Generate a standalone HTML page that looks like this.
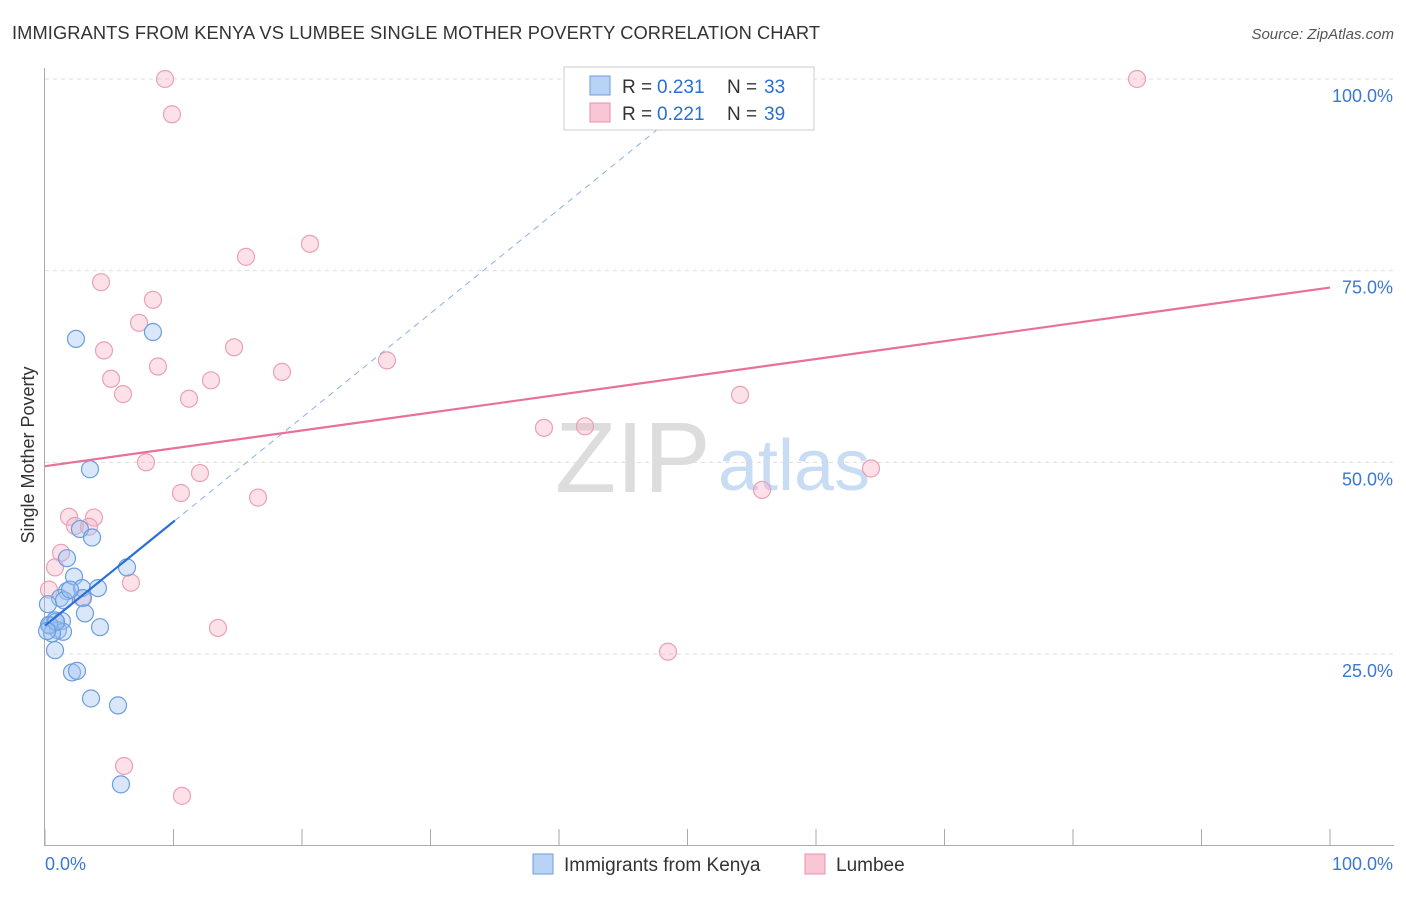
<!DOCTYPE html>
<html><head><meta charset="utf-8"><style>
body{margin:0;background:#fff;font-family:"Liberation Sans",sans-serif;}
svg text{font-family:"Liberation Sans",sans-serif;}
</style></head><body>
<svg id="chart" width="1406" height="892">
<text x="12" y="39" font-size="18.3" fill="#333" textLength="808">IMMIGRANTS FROM KENYA VS LUMBEE SINGLE MOTHER POVERTY CORRELATION CHART</text>
<text x="1394" y="39" font-size="15" fill="#555" text-anchor="end" font-style="italic">Source: ZipAtlas.com</text>
<g id="grid"></g>
<text x="555" y="492" font-size="100" fill="#ddd" font-family="Liberation Serif">ZIP</text>
<text x="718" y="490" font-size="72" fill="#c8dcf4">atlas</text>
<g id="marks"></g>
<text x="34" y="455" font-size="18" fill="#333" text-anchor="middle" transform="rotate(-90 34 455)">Single Mother Poverty</text>
<g>
<rect x="564" y="67" width="250" height="63" fill="#fff" stroke="#ccc"/>
<rect x="590" y="76" width="20" height="19" fill="#b9d3f5" stroke="#6a9ee0"/>
<text x="622" y="93" font-size="19" fill="#333">R =</text>
<text x="657" y="93" font-size="19" fill="#2a6fd6">0.231</text>
<text x="727" y="93" font-size="19" fill="#333">N =</text>
<text x="764" y="93" font-size="19" fill="#2a6fd6">33</text>
<rect x="590" y="103" width="20" height="19" fill="#f9c6d5" stroke="#e890aa"/>
<text x="622" y="120" font-size="19" fill="#333">R =</text>
<text x="657" y="120" font-size="19" fill="#2a6fd6">0.221</text>
<text x="727" y="120" font-size="19" fill="#333">N =</text>
<text x="764" y="120" font-size="19" fill="#2a6fd6">39</text>
</g>
<g>
<rect x="533" y="854" width="20" height="20" fill="#b9d3f5" stroke="#6a9ee0"/>
<text x="564" y="871" font-size="19" fill="#333">Immigrants from Kenya</text>
<rect x="805" y="854" width="20" height="20" fill="#f9c6d5" stroke="#e890aa"/>
<text x="836" y="871" font-size="19" fill="#333">Lumbee</text>
</g>
</svg>
<script>
const yTicks=[25,50,75,100];
const yTickLabels=["25.0%","50.0%","75.0%","100.0%"];
const xTicks=[0,10,20,30,40,50,60,70,80,90,100];
const blueX=[2.41,8.40,3.50,2.72,3.66,1.71,6.38,2.26,1.71,2.88,4.12,1.17,2.96,0.23,3.11,0.78,1.32,0.39,1.01,1.40,0.54,4.28,0.78,2.10,2.49,3.58,5.68,5.91,0.31,0.86,0.16,1.48,1.95];
const blueY=[66.1,67.0,49.1,41.3,40.2,37.5,36.3,35.1,33.2,33.6,33.6,32.3,32.3,31.5,30.3,29.4,29.3,28.7,28.1,27.9,27.7,28.5,25.5,22.6,22.8,19.2,18.3,8.0,28.8,29.2,28.0,32.0,33.4];
const pinkX=[9.34,9.88,84.98,20.62,4.36,15.64,8.40,7.32,4.59,14.71,8.79,26.61,5.14,12.92,18.44,6.07,11.21,54.09,38.83,42.02,7.86,64.28,12.06,10.58,16.58,55.80,1.87,3.81,2.33,3.42,1.25,0.78,0.31,2.88,6.69,13.46,48.48,6.15,10.66];
const pinkY=[100,95.4,100,78.5,73.5,76.8,71.2,68.2,64.6,65.0,62.5,63.3,60.9,60.7,61.8,58.9,58.3,58.8,54.5,54.7,50.0,49.2,48.6,46.0,45.4,46.4,42.9,42.8,41.7,41.6,38.2,36.3,33.4,32.3,34.3,28.4,25.3,10.4,6.5];
const pinkTrendX=[0,100], pinkTrendY=[49.5,72.8];
const blueTrendX=[0,10.1], blueTrendY=[28.7,42.4];
const blueDashX=[10.1,52.5], blueDashY=[42.4,100];

const sx=v=>45+v*12.85, sy=v=>845.7-v*7.667;
const NS="http://www.w3.org/2000/svg";
const grid=document.getElementById('grid'), marks=document.getElementById('marks');
function mk(tag,attrs,parent){const e=document.createElementNS(NS,tag);for(const k in attrs)e.setAttribute(k,attrs[k]);parent.appendChild(e);return e;}
yTicks.forEach((t,i)=>{
 const l=mk('line',{x1:45,x2:1394,y1:sy(t),y2:sy(t),stroke:'#ddd','stroke-dasharray':'4,4'},grid);
 
 
 const tx=mk('text',{x:1393,y:sy(t)+23,'font-size':18,fill:'#3a78d4','text-anchor':'end'},grid);
 tx.textContent=yTickLabels[i];
 
 
});
const ax=mk('line',{x1:45,x2:1394,y1:845.5,y2:845.5,stroke:'#aaa'},grid);


const ay=mk('line',{x1:44.5,x2:44.5,y1:68,y2:846,stroke:'#aaa'},grid);


xTicks.forEach(t=>{
 const l=mk('line',{x1:sx(t),x2:sx(t),y1:829,y2:846,stroke:'#aaa'},grid);
 
 
});
const x0=mk('text',{x:45,y:870,'font-size':18,fill:'#3a78d4'},grid);x0.textContent='0.0%';


const x1=mk('text',{x:1393,y:870,'font-size':18,fill:'#3a78d4','text-anchor':'end'},grid);x1.textContent='100.0%';



pinkX.forEach((x,i)=>{
 const c=mk('circle',{cx:sx(x),cy:sy(pinkY[i]),r:8.5,fill:'rgba(248,180,200,0.4)',stroke:'#eaa0b8','stroke-width':1.2},marks);
 
 
});
blueX.forEach((x,i)=>{
 const c=mk('circle',{cx:sx(x),cy:sy(blueY[i]),r:8.5,fill:'rgba(160,196,240,0.4)',stroke:'#6a9ee0','stroke-width':1.2},marks);
 
 
});
const pl=mk('line',{x1:sx(pinkTrendX[0]),y1:sy(pinkTrendY[0]),x2:sx(pinkTrendX[1]),y2:sy(pinkTrendY[1]),stroke:'#e8709a','stroke-width':2.2},marks);


const bd=mk('line',{x1:sx(blueDashX[0]),y1:sy(blueDashY[0]),x2:sx(blueDashX[1]),y2:sy(blueDashY[1]),stroke:'#8ab0e4','stroke-width':1,'stroke-dasharray':'6,5'},marks);


const bl=mk('line',{x1:sx(blueTrendX[0]),y1:sy(blueTrendY[0]),x2:sx(blueTrendX[1]),y2:sy(blueTrendY[1]),stroke:'#2a6fd6','stroke-width':2.2},marks);


</script>
</body></html>
